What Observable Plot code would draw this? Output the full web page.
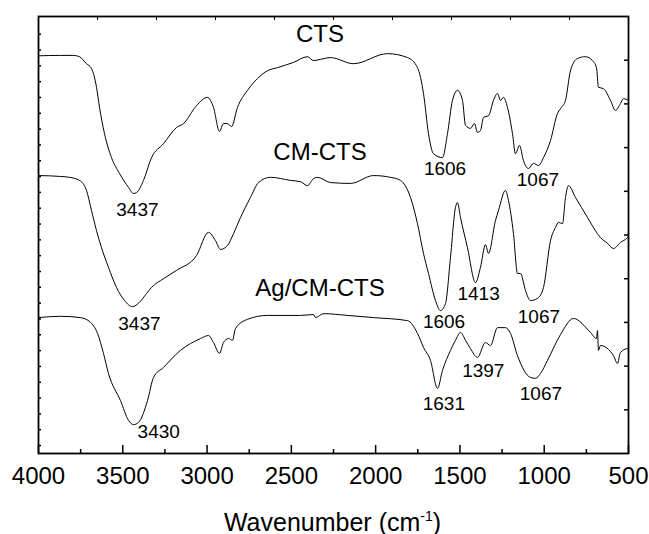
<!DOCTYPE html>
<html><head><meta charset="utf-8">
<script src="https://cdn.jsdelivr.net/npm/d3@7"></script>
<script src="https://cdn.jsdelivr.net/npm/@observablehq/plot@0.6"></script>
<style>html,body{margin:0;padding:0;background:#fff;} svg{display:block}</style>
</head><body><div id="chart"></div>
<script>
// ---- data (wavenumber in cm-1, transmittance in arbitrary % units) ----
const ctsWavenumber = [4000, 3869.5, 3792.4, 3756.8, 3715.3, 3685.6, 3655.9, 3638.1, 3608.5, 3566.9, 3519.5, 3466.1, 3436.5, 3418.7, 3377.1, 3329.7, 3258.5, 3181.4, 3139.9, 3062.7, 2997.5, 2961.9, 2926.3, 2902.6, 2878.9, 2855.1, 2819.5, 2760.2, 2700.9, 2641.6, 2582.3, 2487.3, 2404.3, 2368.7, 2327.2, 2267.9, 2131.4, 1929.7, 1811.1, 1751.8, 1716.2, 1686.5, 1656.9, 1603.5, 1573.8, 1544.2, 1514.5, 1484.8, 1467.0, 1437.4, 1413.6, 1395.9, 1378.1, 1360.3, 1330.6, 1300.9, 1277.2, 1259.4, 1241.6, 1217.9, 1188.2, 1170.4, 1146.7, 1122.9, 1093.3, 1063.7, 1034.0, 1004.3, 962.8, 921.3, 903.5, 873.8, 844.2, 802.7, 755.2, 713.7, 690.0, 678.1, 648.4, 606.9, 577.2, 547.6, 529.8, 500];
const ctsT = [91.0, 91.1, 91.1, 90.8, 89.2, 88.1, 83.8, 79.2, 73.2, 67.7, 64.1, 60.9, 59.5, 59.7, 62.5, 67.7, 70.9, 74.6, 75.5, 79.6, 81.5, 79.2, 73.7, 75.5, 75.5, 74.8, 79.2, 83.1, 85.8, 87.6, 88.3, 89.5, 90.8, 89.9, 90.2, 90.6, 89.2, 91.5, 90.6, 88.3, 82.4, 73.2, 68.6, 67.7, 73.2, 80.8, 83.1, 80.8, 75.1, 74.4, 75.5, 73.5, 73.9, 76.9, 77.3, 80.8, 82.4, 80.8, 81.5, 79.2, 73.2, 68.6, 70.5, 67.0, 65.2, 66.4, 65.9, 67.7, 71.6, 77.8, 78.9, 80.8, 87.6, 90.4, 90.8, 89.9, 88.3, 83.8, 83.5, 80.8, 78.5, 80.1, 81.2, 80.8];

const cmctsWavenumber = [4000, 3869.5, 3816.1, 3756.8, 3715.3, 3685.6, 3655.9, 3626.3, 3584.8, 3537.3, 3489.8, 3442.4, 3400.9, 3359.3, 3329.7, 3258.5, 3181.4, 3062.7, 2991.6, 2950.0, 2920.4, 2878.9, 2843.3, 2801.7, 2742.4, 2694.9, 2623.8, 2505.1, 2445.8, 2404.3, 2368.7, 2345.0, 2267.9, 2149.2, 2012.8, 1911.9, 1852.6, 1793.3, 1751.8, 1716.2, 1686.5, 1644.9, 1615.3, 1585.6, 1556.0, 1526.4, 1514.5, 1496.7, 1455.2, 1407.7, 1378.1, 1348.4, 1330.6, 1289.1, 1271.3, 1229.8, 1212.0, 1182.3, 1158.6, 1140.8, 1111.1, 1081.5, 1039.9, 1004.3, 962.8, 933.2, 915.4, 891.6, 873.8, 856.0, 814.5, 743.3, 684.0, 666.2, 624.7, 589.1, 547.6, 506.1, 500];
const cmctsT = [63.6, 63.4, 63.2, 62.5, 60.2, 55.6, 51.0, 47.1, 42.6, 38.0, 35.0, 33.6, 34.6, 36.6, 38.0, 40.0, 41.9, 45.3, 50.6, 48.7, 46.7, 47.6, 50.3, 54.0, 58.6, 62.0, 63.2, 62.5, 62.2, 61.3, 62.9, 63.2, 62.0, 61.8, 63.6, 63.2, 62.5, 58.6, 52.6, 45.8, 41.2, 35.0, 32.7, 34.3, 44.9, 56.3, 57.4, 54.0, 47.1, 39.1, 42.6, 47.8, 45.8, 53.3, 55.6, 60.2, 57.9, 50.3, 41.2, 41.2, 37.3, 35.0, 35.5, 38.0, 48.7, 51.7, 52.9, 52.6, 58.6, 61.3, 58.6, 54.0, 50.3, 49.4, 48.1, 46.9, 48.3, 49.4, 49.7];

const agWavenumber = [4000, 3869.5, 3750.9, 3691.5, 3650.0, 3614.4, 3584.8, 3513.6, 3466.1, 3436.5, 3406.8, 3353.4, 3317.8, 3258.5, 3157.7, 3039.0, 2991.6, 2961.9, 2926.3, 2902.6, 2872.9, 2849.2, 2831.4, 2760.2, 2641.6, 2445.8, 2368.7, 2356.9, 2309.4, 2167.0, 2012.8, 1811.1, 1751.8, 1716.2, 1674.7, 1633.1, 1603.5, 1556.0, 1526.4, 1496.7, 1467.0, 1437.4, 1395.9, 1348.4, 1318.7, 1277.2, 1229.8, 1200.1, 1158.6, 1081.5, 1051.8, 1022.1, 980.6, 903.5, 826.4, 725.5, 690.0, 684.0, 678.1, 666.2, 589.1, 565.4, 547.6, 506.1, 500];
const agT = [31.1, 31.4, 31.1, 30.0, 27.5, 22.9, 18.3, 12.1, 7.6, 6.6, 7.1, 12.1, 17.4, 19.7, 23.6, 26.3, 27.0, 25.4, 22.9, 25.4, 26.3, 25.9, 28.6, 30.7, 31.6, 31.6, 31.8, 31.1, 32.0, 31.6, 31.1, 30.4, 27.5, 24.3, 21.3, 14.9, 19.0, 23.6, 25.9, 27.7, 25.9, 24.0, 22.0, 25.4, 24.7, 28.8, 28.8, 27.5, 22.4, 17.4, 17.2, 18.3, 21.3, 27.2, 30.9, 27.7, 26.3, 28.1, 23.6, 24.7, 22.4, 20.6, 23.1, 24.0, 24.0];

const seriesNames = ["CTS", "CM-CTS", "Ag/CM-CTS"];
const seriesLabelWavenumber = 2330;

const peakSeries = ["CTS", "CTS", "CTS", "CM-CTS", "CM-CTS", "CM-CTS", "CM-CTS", "Ag/CM-CTS", "Ag/CM-CTS", "Ag/CM-CTS", "Ag/CM-CTS"];
const peakLabels = ["3437", "1606", "1067", "3437", "1606", "1413", "1067", "3430", "1631", "1397", "1067"];

const xTickLabels = [4000, 3500, 3000, 2500, 2000, 1500, 1000, 500];
const xMinorTicks = [3750, 3250, 2750, 2250, 1750, 1250, 750];
const topTicks = [3650, 3300, 2950, 2600, 2250, 1900, 1550, 1200, 850];
const rightTicks = [10, 20, 30, 40, 50, 60, 70, 80, 90];
const leftTicks = d3.range(27).map(k => 1.83 + k * 3.62);

// ---- layout / style (not data) ----
const seriesLabelDy = [-17, -18, -19];
const peakDx = [4, 3, 5, 6, 2, 4, 6, 3, 6, 6, 8];
const peakDy = [9, 4, 9, 10, 6, 8, 10, 0, 9, 6, 9];
const peakAnchor = ["middle", "middle", "middle", "middle", "middle", "middle", "middle", "start", "middle", "middle", "middle"];
const FONT = "'Liberation Sans', Arial, Helvetica, sans-serif";

// ---- build ----
const seriesData = {
  "CTS": [ctsWavenumber, ctsT],
  "CM-CTS": [cmctsWavenumber, cmctsT],
  "Ag/CM-CTS": [agWavenumber, agT]
};
const rows = seriesNames.flatMap(name => {
  const [w, t] = seriesData[name];
  return w.map((wn, i) => ({series: name, wn, t: t[i]}));
});
function valueAt(name, w) {
  const [ws, ts] = seriesData[name];
  for (let i = 0; i < ws.length - 1; i++) {
    if (w <= ws[i] && w >= ws[i + 1]) {
      const f = (ws[i] - w) / (ws[i] - ws[i + 1]);
      return ts[i] + f * (ts[i + 1] - ts[i]);
    }
  }
  return ts[ts.length - 1];
}

const seriesLabelMarks = seriesNames.map((name, i) =>
  Plot.text([{name, wn: seriesLabelWavenumber, t: valueAt(name, seriesLabelWavenumber)}], {
    x: "wn", y: "t", text: "name", textAnchor: "middle", lineAnchor: "bottom",
    dy: seriesLabelDy[i], fontSize: 24, fill: "black"
  })
);
const peakMarks = peakLabels.map((lab, i) =>
  Plot.text([{lab, wn: +lab, t: valueAt(peakSeries[i], +lab)}], {
    x: "wn", y: "t", text: "lab", textAnchor: peakAnchor[i], lineAnchor: "top",
    dx: peakDx[i], dy: peakDy[i], fontSize: 19, fill: "black"
  })
);

const chart = Plot.plot({
  width: 649,
  height: 534,
  marginLeft: 38,
  marginRight: 21,
  marginTop: 16,
  marginBottom: 81,
  style: {fontFamily: FONT, background: "white", color: "black"},
  x: {domain: [4000, 500]},
  y: {domain: [0, 100]},
  marks: [
    Plot.line(rows, {x: "wn", y: "t", z: "series", stroke: "black", strokeWidth: 1, curve: "monotone-x"}),
    Plot.frame({stroke: "black", strokeWidth: 1.8}),
    Plot.axisX(xTickLabels, {anchor: "bottom", tickSize: -8, fill: "none", label: null, strokeWidth: 1.5}),
    Plot.axisX(xMinorTicks, {anchor: "bottom", tickSize: -4, fill: "none", label: null, strokeWidth: 1.5}),
    Plot.axisX(xTickLabels, {anchor: "bottom", tickSize: 0, tickPadding: 13, fontSize: 24, label: null, tickFormat: d => String(d)}),
    Plot.axisX(topTicks, {anchor: "top", tickSize: -3, fill: "none", label: null}),
    Plot.axisY(leftTicks, {anchor: "left", tickSize: -3, fill: "none", label: null, strokeWidth: 1.5}),
    Plot.axisY(rightTicks, {anchor: "right", tickSize: -5, fill: "none", label: null, strokeWidth: 1.5}),
    ...seriesLabelMarks,
    ...peakMarks,
    Plot.text(["Wavenumber (cm-1)"], {frameAnchor: "bottom", text: d => d, lineAnchor: "bottom", dy: 77, dx: -1, fontSize: 25, fill: "black"})
  ]
});

// superscript for the axis label
d3.select(chart).selectAll("text").each(function() {
  if (this.textContent === "Wavenumber (cm-1)") {
    const t = d3.select(this);
    t.text(null);
    t.append("tspan").text("Wavenumber (cm");
    t.append("tspan").attr("dy", -10).attr("font-size", 14).text("-1");
    t.append("tspan").attr("dy", 10).text(")");
  }
});

document.getElementById("chart").appendChild(chart);
</script>
</body></html>
